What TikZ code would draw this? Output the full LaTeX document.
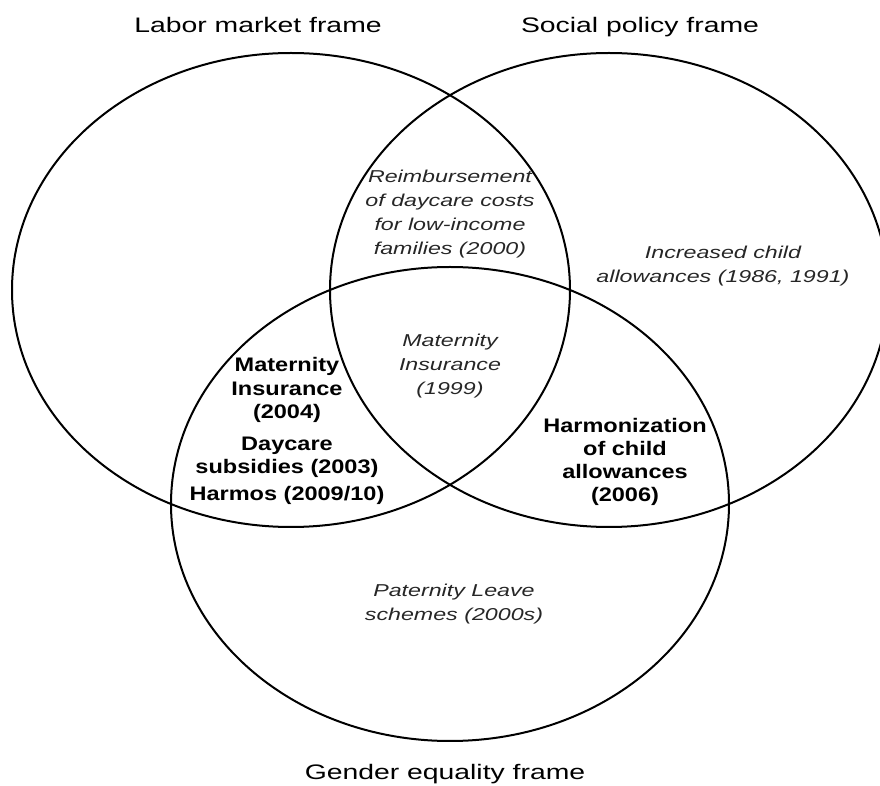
\documentclass[tikz,border=0pt]{standalone}
\usepackage{fontspec}
\usepackage{tikz}
\usetikzlibrary{shapes.geometric}
\newfontfamily\framefont[FakeStretch=1.35]{Liberation Sans}
\newfontfamily\keyfont[FakeStretch=1.2]{Liberation Sans}
\tikzset{
	setellipse/.style={ellipse, draw=black, line width=1pt, inner sep=0pt,
		minimum width=279pt, minimum height=237pt},
	framelabel/.style={font=\framefont\fontsize{10.5}{12}\selectfont, inner sep=0pt, anchor=base},
	policyit/.style={font=\framefont\itshape\fontsize{8.6}{12}\selectfont, text=black!85,
		align=center, inner sep=0pt},
	policybold/.style={font=\keyfont\bfseries\fontsize{9.8}{11.6}\selectfont,
		align=center, inner sep=0pt},
}

\begin{document}
\begin{tikzpicture}[x=0.5pt, y=-0.5pt]
	\useasboundingbox (0,0) rectangle (880,786);
	
	% The three frames
	\node[setellipse] (labor) at (291,290) {};
	\node[setellipse] (social) at (609,290) {};
	\node[setellipse] (gender) at (450,504) {};
	
	% Frame titles
	\node[framelabel] (laborlbl) at (258,33) {Labor market frame};
	\node[framelabel] (sociallbl) at (640,33) {Social policy frame};
	\node[framelabel] (genderlbl) at (445,780) {Gender equality frame};
	
	% Policies in italics
	\node[policyit] (reimb) at (450,214)
	{Reimbursement\\of daycare costs\\for low-income\\families (2000)};
	\node[policyit] (incr) at (723,266) {Increased child\\allowances (1986, 1991)};
	\node[policyit] (mat99) at (450,366) {Maternity\\Insurance\\(1999)};
	\node[policyit] (pat) at (454,604) {Paternity Leave\\schemes (2000s)};
	
	% Policies in bold
	\node[policybold] (mat04) at (287,390) {Maternity\\Insurance\\(2004)};
	\node[policybold] (daycare) at (287,471)
	{Daycare\\subsidies (2003)\\[2pt]Harmos (2009/10)};
	\node[policybold] (harmon) at (625,462)
	{Harmonization\\of child\\allowances\\(2006)};
	
\end{tikzpicture}
\end{document}
